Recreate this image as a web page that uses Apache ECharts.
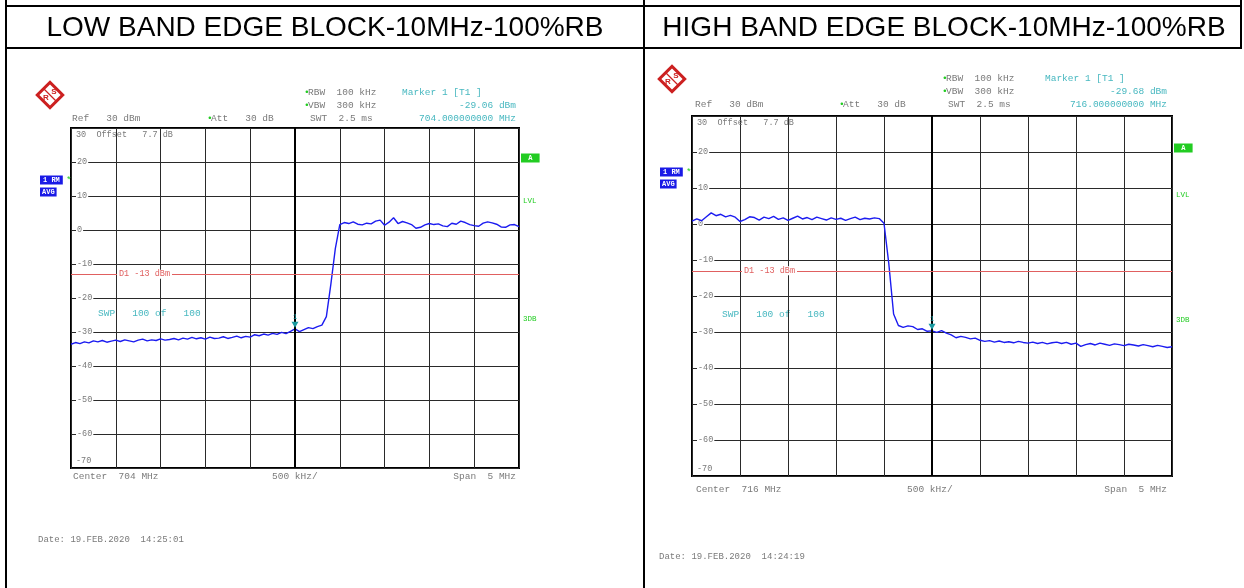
<!DOCTYPE html>
<html>
<head>
<meta charset="utf-8">
<script src="https://cdn.jsdelivr.net/npm/echarts@6/dist/echarts.min.js"></script>
<style>
html, body { margin: 0; padding: 0; background: #fff; }
#main { width: 1244px; height: 588px; }
</style>
</head>
<body>
<div id="main"></div>
<script>
// frequency span of each screen shot (MHz), sampled every 0.05 MHz
var lowStart = 701.5, highStart = 713.5, step = 0.05;

// trace levels in dBm
var lowLevels = [
    -33.6, -33.1, -33.4, -32.9, -33.2, -32.6, -32.9, -32.5, -33.0, -32.7,
    -32.4, -32.8, -32.3, -32.6, -32.9, -32.4, -32.1, -32.6, -32.3, -32.5,
    -32.0, -32.4, -32.2, -31.9, -32.3, -31.8, -32.1, -31.6, -32.0, -31.7,
    -32.1, -31.5, -31.9, -31.8, -31.4, -31.9, -31.6, -31.2, -31.7, -31.3,
    -31.5, -30.8, -31.1, -30.6, -30.9, -30.4, -30.7, -30.1, -30.5, -29.8,
    -29.1, -29.9, -29.3, -28.7, -29.0, -28.4, -28.0, -25.5, -16.0, -5.5,
    1.6, 2.2, 1.9, 2.4, 1.7, 1.5, 2.0, 1.8, 2.6, 2.9,
    1.4, 2.3, 3.6, 1.9, 2.5, 2.1, 1.6, 0.5, 0.8, 1.5,
    1.9, 1.6, 1.8, 1.2, 1.0, 2.0, 1.7, 2.6, 2.2, 1.6,
    1.3, 1.1, 2.0, 2.4, 2.1, 1.7, 0.9, 0.8, 1.5, 1.6,
    1.0
];
var highLevels = [
    0.8, 1.4, 0.9, 2.0, 3.1, 2.3, 2.7, 2.0, 2.4, 1.9,
    0.7, 1.2, 2.0, 1.8, 1.1, 1.9, 1.5, 2.1, 1.3, 1.7,
    1.0, 1.6, 2.2, 1.4, 1.8, 1.2, 1.9, 1.5, 1.1, 1.7,
    1.3, 1.6, 1.0, 1.5, 1.9, 1.2, 1.6, 1.4, 1.7, 1.5,
    0.2, -11.0, -25.0, -28.2, -28.7, -28.3, -28.5, -29.3, -29.1, -29.8,
    -29.7, -30.1, -29.6, -30.3, -30.8, -31.6, -31.2, -31.5, -31.9, -31.7,
    -32.3, -32.6, -32.4, -32.8, -32.5, -32.9, -32.7, -33.0, -32.6, -32.9,
    -33.1, -32.8, -33.2, -32.9, -33.3, -33.0, -32.8, -33.2, -32.9, -33.4,
    -33.1, -34.0, -33.5, -33.2, -33.6, -33.1, -33.4, -33.7, -33.3, -33.5,
    -33.8, -33.4, -33.6, -33.9, -33.5, -33.8, -34.1, -33.7, -34.0, -34.3,
    -34.1
];

// marker 1 and display line
var lowMarker = [704, -29.06];
var highMarker = [716, -29.68];
var displayLine = -13;

var MONO = '"Liberation Mono", "DejaVu Sans Mono", monospace';
var GREY = '#7a7a7a';
var TEAL = '#48b8c0';
var GREEN = '#22cc22';

function toPairs(start, levels) {
    return levels.map(function (v, i) {
        return [+(start + i * step).toFixed(2), v];
    });
}

function xAxisFor(idx, start) {
    return {
        gridIndex: idx, type: 'value', min: start, max: start + 5, interval: 0.5,
        axisLine: { show: false }, axisTick: { show: false }, axisLabel: { show: false },
        splitLine: { show: true, lineStyle: { color: '#2a2a2a', width: 1 } }
    };
}

function yAxisFor(idx) {
    return {
        gridIndex: idx, type: 'value', min: -70, max: 30, interval: 10,
        axisLine: { show: false }, axisTick: { show: false },
        axisLabel: {
            inside: true, margin: 5, color: GREY, fontFamily: MONO, fontSize: 8.5,
            formatter: function (v) {
                if (v === 30) return '{top|30  Offset   7.7 dB}';
                if (v === -70) return '{bot|-70}';
                return '{n|' + v + '}';
            },
            rich: {
                n: { backgroundColor: '#fff', padding: [1, 1] },
                top: { padding: [13, 0, 0, 0] },
                bot: { padding: [0, 0, 14, 0] }
            }
        },
        splitLine: { show: true, lineStyle: { color: '#2a2a2a', width: 1 } }
    };
}

function traceFor(idx, start, levels, marker, dlDist) {
    return {
        type: 'line', xAxisIndex: idx, yAxisIndex: idx,
        data: toPairs(start, levels),
        showSymbol: false, animation: false,
        lineStyle: { color: '#1c1cf0', width: 1.4 },
        markLine: {
            silent: true, symbol: 'none', animation: false,
            data: [
                { xAxis: marker[0], lineStyle: { color: '#000', width: 2, type: 'solid' }, label: { show: false } },
                {
                    yAxis: displayLine,
                    lineStyle: { color: '#e06060', width: 1, type: 'solid' },
                    label: {
                        show: true, position: 'insideStartTop', distance: [dlDist, 0],
                        verticalAlign: 'middle', formatter: 'D1 -13 dBm',
                        color: '#e06060', fontFamily: MONO, fontSize: 8.5,
                        backgroundColor: '#fff', padding: [0, 2]
                    }
                }
            ]
        },
        markPoint: {
            silent: true, animation: false,
            symbol: 'triangle', symbolRotate: 180, symbolSize: [7, 6], symbolOffset: [0, -4],
            itemStyle: { color: '#1a9aa0' },
            label: { show: true, position: 'top', distance: 1, formatter: '1', color: '#1a9aa0', fontSize: 7, fontFamily: MONO },
            data: [{ coord: marker }]
        }
    };
}

function txt(x, y, s, color, align, extra) {
    return {
        type: 'text', x: x, y: y, silent: true,
        style: Object.assign({
            text: s, fill: color || GREY, font: '9.5px ' + MONO,
            align: align || 'left', verticalAlign: 'middle'
        }, extra || {})
    };
}

function line(x1, y1, x2, y2) {
    return { type: 'line', silent: true, shape: { x1: x1, y1: y1, x2: x2, y2: y2 }, style: { stroke: '#000', lineWidth: 2 } };
}

function logo(x, y) {
    return {
        type: 'group', x: x, y: y, silent: true,
        children: [
            { type: 'rect', rotation: Math.PI / 4, shape: { x: -9, y: -9, width: 18, height: 18 },
              style: { fill: '#fff', stroke: '#cc2020', lineWidth: 3 } },
            { type: 'line', shape: { x1: -7, y1: -7, x2: 7, y2: 7 }, style: { stroke: '#cc2020', lineWidth: 1.2 } },
            { type: 'text', x: -4, y: 3, style: { text: 'R', fill: '#cc2020', font: 'bold 8px sans-serif', align: 'center', verticalAlign: 'middle' } },
            { type: 'text', x: 4, y: -3, style: { text: 'S', fill: '#cc2020', font: 'bold 8px sans-serif', align: 'center', verticalAlign: 'middle' } }
        ]
    };
}

function panelText(o) {
    // o: pixel anchors of one analyzer screen shot
    return [
        logo(o.logoX, o.logoY),
        txt(o.rbwX - 4, o.row1, '•', GREEN),
        txt(o.rbwX, o.row1, 'RBW  100 kHz'),
        txt(o.rbwX - 4, o.row2, '•', GREEN),
        txt(o.rbwX, o.row2, 'VBW  300 kHz'),
        txt(o.mkX, o.row1, 'Marker 1 [T1 ]', TEAL),
        txt(o.right, o.row2, o.mkLevel, TEAL, 'right'),
        txt(o.left + 1, o.row3, 'Ref   30 dBm'),
        txt(o.attX - 4, o.row3, '•', GREEN),
        txt(o.attX, o.row3, 'Att   30 dB'),
        txt(o.rbwX + 2, o.row3, 'SWT  2.5 ms'),
        txt(o.right, o.row3, o.mkFreq, TEAL, 'right'),
        txt(o.boxX, o.rmY, '1 RM', '#fff', 'left', { backgroundColor: '#1a1ae6', padding: [1, 3], font: 'bold 7px ' + MONO }),
        txt(o.boxX + 26, o.rmY, '*', GREEN),
        txt(o.boxX, o.rmY + 12, 'AVG', '#fff', 'left', { backgroundColor: '#1a1ae6', padding: [1, 2], font: 'bold 7px ' + MONO }),
        txt(o.frameR + 2, o.aY, ' A ', '#fff', 'left', { backgroundColor: GREEN, padding: [1, 3], font: 'bold 7px ' + MONO }),
        txt(o.frameR + 4, o.lvlY, 'LVL', GREEN, 'left', { font: '7.5px ' + MONO }),
        txt(o.frameR + 4, o.dbY, '3DB', GREEN, 'left', { font: '7.5px ' + MONO }),
        txt(o.swpX, o.swpY, 'SWP   100 of   100', TEAL),
        txt(o.left + 2, o.botY, 'Center  ' + o.center + ' MHz'),
        txt(o.midX, o.botY, '500 kHz/'),
        txt(o.right, o.botY, 'Span  5 MHz', GREY, 'right'),
        txt(o.dateX, o.dateY, o.date, GREY, 'left', { font: '9px ' + MONO })
    ];
}

var chart = echarts.init(document.getElementById('main'));

var graphics = [
    line(6, 0, 6, 588),
    line(644, 0, 644, 588),
    line(1241, 0, 1241, 48),
    line(6, 6, 1242, 6),
    line(6, 48, 1242, 48),
    { type: 'text', x: 325, y: 28, silent: true,
      style: { text: 'LOW BAND EDGE BLOCK-10MHz-100%RB', fill: '#000', font: '28px "Liberation Sans", Arial, sans-serif', align: 'center', verticalAlign: 'middle' } },
    { type: 'text', x: 944, y: 28, silent: true,
      style: { text: 'HIGH BAND EDGE BLOCK-10MHz-100%RB', fill: '#000', font: '28px "Liberation Sans", Arial, sans-serif', align: 'center', verticalAlign: 'middle' } }
].concat(panelText({
    logoX: 50, logoY: 95, left: 71, right: 516, frameR: 519,
    row1: 92, row2: 105, row3: 118, rbwX: 308, mkX: 402, attX: 211,
    mkLevel: '-29.06 dBm', mkFreq: '704.000000000 MHz',
    boxX: 40, rmY: 180, aY: 158, lvlY: 201, dbY: 319,
    swpX: 98, swpY: 313, botY: 476, midX: 272, center: '704',
    dateX: 38, dateY: 540, date: 'Date: 19.FEB.2020  14:25:01'
})).concat(panelText({
    logoX: 672, logoY: 79, left: 694, right: 1167, frameR: 1172,
    row1: 78, row2: 91, row3: 104, rbwX: 946, mkX: 1045, attX: 843,
    mkLevel: '-29.68 dBm', mkFreq: '716.000000000 MHz',
    boxX: 660, rmY: 172, aY: 148, lvlY: 195, dbY: 320,
    swpX: 722, swpY: 314, botY: 489, midX: 907, center: '716',
    dateX: 659, dateY: 557, date: 'Date: 19.FEB.2020  14:24:19'
}));

chart.setOption({
    animation: false,
    backgroundColor: '#fff',
    grid: [
        { left: 71, top: 128, width: 448, height: 340, show: true, borderColor: '#000', borderWidth: 2 },
        { left: 692, top: 116, width: 480, height: 360, show: true, borderColor: '#000', borderWidth: 2 }
    ],
    xAxis: [xAxisFor(0, lowStart), xAxisFor(1, highStart)],
    yAxis: [yAxisFor(0), yAxisFor(1)],
    series: [
        traceFor(0, lowStart, lowLevels, lowMarker, 46),
        traceFor(1, highStart, highLevels, highMarker, 50)
    ],
    graphic: graphics
});
</script>
</body>
</html>
